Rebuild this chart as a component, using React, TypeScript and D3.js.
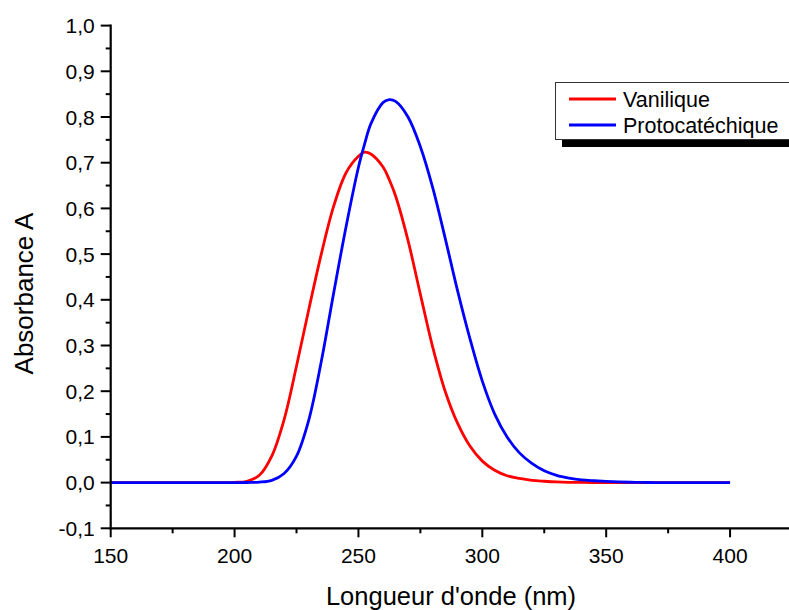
import React from "react";
import * as d3 from "d3";

const wavelengths = [150, 155, 160, 165, 170, 175, 180, 185, 190, 195, 200, 205, 210, 215, 220, 225, 230, 235, 240, 245, 250, 252.5, 255, 260, 262.5, 265, 270, 275, 280, 285, 290, 295, 300, 305, 310, 315, 320, 325, 330, 335, 340, 345, 350, 355, 360, 365, 370, 375, 380, 385, 390, 395, 400];

const vanilique = [0, 0, 0, 0, 0, 0, 0, 0, 0, 0, 0.0005, 0.003, 0.016, 0.058, 0.138, 0.255, 0.38, 0.5, 0.605, 0.678, 0.714, 0.723, 0.719, 0.69, 0.662, 0.627, 0.53, 0.412, 0.296, 0.2, 0.13, 0.08, 0.047, 0.027, 0.015, 0.009, 0.005, 0.003, 0.0015, 0.0007, 0.0003, 0, 0, 0, 0, 0, 0, 0, 0, 0, 0, 0, 0];

const protocatechique = [0, 0, 0, 0, 0, 0, 0, 0, 0, 0, 0, 0.0002, 0.001, 0.005, 0.02, 0.058, 0.138, 0.265, 0.415, 0.56, 0.69, 0.741, 0.785, 0.832, 0.838, 0.834, 0.8, 0.735, 0.645, 0.535, 0.42, 0.315, 0.222, 0.15, 0.1, 0.065, 0.042, 0.026, 0.016, 0.01, 0.006, 0.004, 0.0025, 0.0015, 0.0008, 0.0004, 0, 0, 0, 0, 0, 0, 0];

const xMajorTicks = [150, 200, 250, 300, 350, 400];
const xMinorTicks = [175, 225, 275, 325, 375, 425];
const yMajorTicks = [-0.1, 0, 0.1, 0.2, 0.3, 0.4, 0.5, 0.6, 0.7, 0.8, 0.9, 1.0];
const yMinorTicks = [-0.05, 0.05, 0.15, 0.25, 0.35, 0.45, 0.55, 0.65, 0.75, 0.85, 0.95];

const seriesNames = ["Vanilique", "Protocatéchique"];
const seriesColors = ["#ff0000", "#0000ff"];

const fmt = (v: number) => v.toFixed(1).replace(".", ",");

export default function App() {
  const W = 789;
  const H = 610;
  const x = d3.scaleLinear().domain([150, 425]).range([110.7, 792]);
  const y = d3.scaleLinear().domain([-0.1, 1.0]).range([528.3, 25.6]);
  const font = "Arial, 'Liberation Sans', sans-serif";

  const line = d3
    .line<number>()
    .x((_, i) => x(wavelengths[i]))
    .y((d) => y(d))
    .curve(d3.curveCatmullRom.alpha(0.5));

  const series = [vanilique, protocatechique];
  const x0 = x(150);
  const yb = y(-0.1);

  return (
    <svg
      width={W}
      height={H}
      style={{ position: "absolute", left: 0, top: 0, background: "#fff" }}
      fontFamily={font}
    >
      <rect x={0} y={0} width={W} height={H} fill="#fff" />
      {series.map((s, i) => (
        <path key={i} d={line(s) || ""} fill="none" stroke={seriesColors[i]} strokeWidth={2.8} strokeLinejoin="round" />
      ))}
      {/* axes */}
      <line x1={x0} x2={x0} y1={y(1.0) - 1} y2={yb + 1} stroke="#000" strokeWidth={2.2} />
      <line x1={x0 - 1} x2={W + 5} y1={yb} y2={yb} stroke="#000" strokeWidth={2.2} />
      {yMajorTicks.map((t) => (
        <g key={"ym" + t}>
          <line x1={x0 - 10} x2={x0} y1={y(t)} y2={y(t)} stroke="#000" strokeWidth={2} />
          <text x={x0 - 16} y={y(t)} dy="0.36em" textAnchor="end" fontSize={21} fill="#000">
            {fmt(t)}
          </text>
        </g>
      ))}
      {yMinorTicks.map((t) => (
        <line key={"yn" + t} x1={x0 - 5} x2={x0} y1={y(t)} y2={y(t)} stroke="#000" strokeWidth={2} />
      ))}
      {xMajorTicks.map((t) => (
        <g key={"xm" + t}>
          <line x1={x(t)} x2={x(t)} y1={yb} y2={yb + 9} stroke="#000" strokeWidth={2} />
          <text x={x(t)} y={563} textAnchor="middle" fontSize={21} fill="#000">
            {t}
          </text>
        </g>
      ))}
      {xMinorTicks.map((t) => (
        <line key={"xn" + t} x1={x(t)} x2={x(t)} y1={yb} y2={yb + 5} stroke="#000" strokeWidth={2} />
      ))}
      {/* axis titles */}
      <text x={451} y={605} textAnchor="middle" fontSize={25.5} fill="#000">
        Longueur d'onde (nm)
      </text>
      <text
        transform={`translate(33,293.5) rotate(-90)`}
        textAnchor="middle"
        fontSize={26}
        fill="#000"
      >
        Absorbance A
      </text>
      {/* legend */}
      <rect x={562} y={89} width={260} height={58} fill="#000" />
      <rect x={555.5} y={82.5} width={260} height={57} fill="#fff" stroke="#333" strokeWidth={1} />
      {seriesNames.map((n, i) => (
        <g key={n}>
          <line x1={569} x2={616} y1={99 + i * 26} y2={99 + i * 26} stroke={seriesColors[i]} strokeWidth={2.8} />
          <text x={623} y={106.7 + i * 26} fontSize={21.5} fill="#000">
            {n}
          </text>
        </g>
      ))}
    </svg>
  );
}
